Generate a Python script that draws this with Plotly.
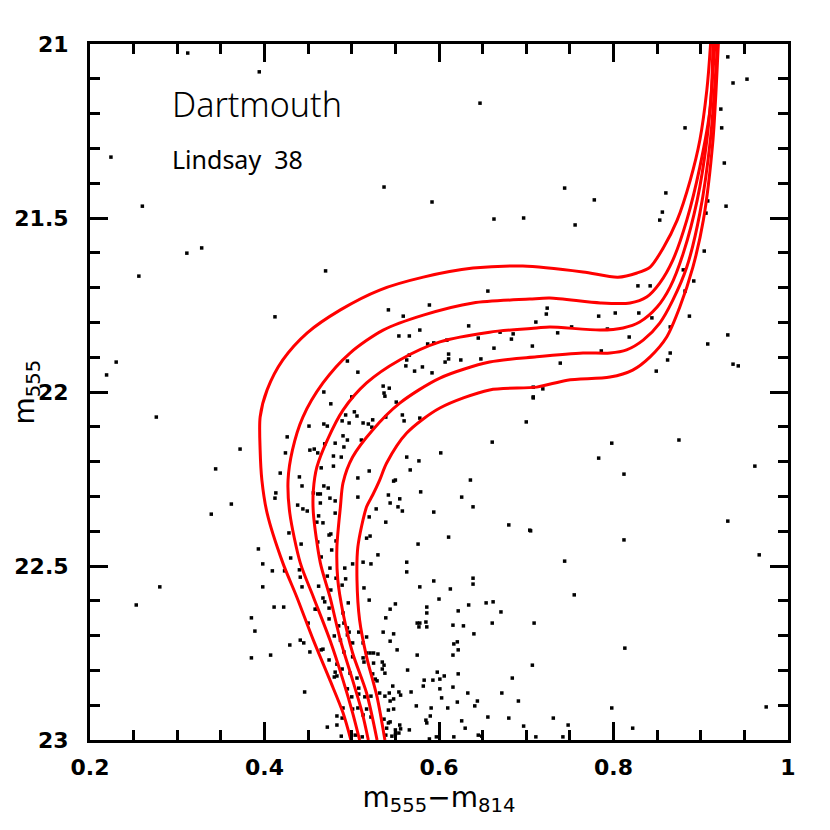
import plotly.graph_objects as go

# ---- isochrones (colour m555-m814, magnitude m555), bottom -> top ----
iso1_c = [0.499, 0.490, 0.475, 0.456, 0.437, 0.421, 0.403, 0.397, 0.395, 0.395, 0.403, 0.421, 0.449, 0.487,
          0.532, 0.582, 0.639, 0.696, 0.765, 0.805, 0.827, 0.842, 0.857, 0.873, 0.888, 0.899, 0.907, 0.911, 0.912]
iso1_m = [23.0, 22.922, 22.828, 22.713, 22.589, 22.491, 22.348, 22.253, 22.167, 22.072, 21.994, 21.908, 21.830, 21.764,
          21.707, 21.670, 21.644, 21.638, 21.655, 21.670, 21.658, 21.641, 21.586, 21.506, 21.391, 21.276, 21.132, 21.009, 20.96]

iso2_c = [0.509, 0.501, 0.490, 0.475, 0.456, 0.441, 0.429, 0.427, 0.432, 0.444, 0.467, 0.498, 0.536, 0.582,
          0.639, 0.704, 0.727, 0.785, 0.819, 0.838, 0.853, 0.868, 0.884, 0.899, 0.911, 0.914, 0.915]
iso2_m = [23.0, 22.922, 22.828, 22.713, 22.589, 22.491, 22.348, 22.253, 22.167, 22.072, 21.974, 21.888, 21.822, 21.779,
          21.744, 21.733, 21.730, 21.744, 21.744, 21.727, 21.687, 21.621, 21.506, 21.353, 21.181, 21.009, 20.96]

iso3_c = [0.519, 0.512, 0.501, 0.487, 0.475, 0.464, 0.456, 0.456, 0.460, 0.472, 0.490, 0.517, 0.555, 0.601,
          0.658, 0.712, 0.727, 0.785, 0.811, 0.830, 0.850, 0.865, 0.880, 0.896, 0.907, 0.916, 0.917]
iso3_m = [23.0, 22.922, 22.828, 22.713, 22.589, 22.491, 22.348, 22.282, 22.216, 22.138, 22.052, 21.974, 21.908, 21.856,
          21.828, 21.816, 21.813, 21.822, 21.816, 21.799, 21.756, 21.698, 21.601, 21.448, 21.276, 21.009, 20.96]

iso4_c = [0.529, 0.517, 0.501, 0.490, 0.484, 0.483, 0.487, 0.490, 0.501, 0.524, 0.555, 0.601, 0.658, 0.712,
          0.765, 0.796, 0.815, 0.834, 0.853, 0.868, 0.884, 0.899, 0.911, 0.919, 0.920]
iso4_m = [23.0, 22.865, 22.750, 22.635, 22.540, 22.445, 22.330, 22.261, 22.187, 22.109, 22.032, 21.960, 21.914, 21.899,
          21.888, 21.888, 21.879, 21.851, 21.802, 21.736, 21.641, 21.486, 21.276, 21.009, 20.96]

iso5_c = [0.538, 0.529, 0.517, 0.509, 0.506, 0.507, 0.517, 0.524, 0.532, 0.540, 0.563, 0.601, 0.658, 0.712,
          0.747, 0.796, 0.822, 0.842, 0.861, 0.876, 0.891, 0.903, 0.914, 0.920, 0.921]
iso5_m = [23.0, 22.876, 22.761, 22.655, 22.540, 22.445, 22.330, 22.296, 22.253, 22.204, 22.118, 22.046, 21.994, 21.986,
          21.966, 21.957, 21.937, 21.899, 21.842, 21.756, 21.641, 21.506, 21.276, 21.009, 20.96]

isochrones = [(iso1_c, iso1_m), (iso2_c, iso2_m), (iso3_c, iso3_m), (iso4_c, iso4_m), (iso5_c, iso5_m)]

# ---- stars ----
upper_c = [0.312, 0.394, 0.647, 0.224, 0.537, 0.592, 0.260, 0.663, 0.311, 0.328,
           0.931, 0.937, 0.953, 0.923, 0.914, 0.924, 0.882, 0.927, 0.744, 0.778,
           0.697, 0.756, 0.860, 0.856, 0.853, 0.908, 0.929, 0.906, 0.904, 0.880,
           0.892, 0.882, 0.828, 0.842, 0.887, 0.829, 0.844, 0.802, 0.783, 0.724,
           0.723, 0.711, 0.752, 0.793, 0.670, 0.685, 0.683, 0.736, 0.707, 0.818,
           0.865, 0.908, 0.931, 0.786, 0.739, 0.865, 0.862, 0.937, 0.943, 0.849,
           0.708, 0.719, 0.708]
upper_m = [21.026, 21.080, 21.170, 21.325, 21.411, 21.454, 21.466, 21.503, 21.601, 21.586,
           21.037, 21.112, 21.101, 21.187, 21.210, 21.241, 21.241, 21.342, 21.414, 21.448,
           21.500, 21.520, 21.428, 21.483, 21.506, 21.451, 21.466, 21.486, 21.595, 21.649,
           21.681, 21.710, 21.695, 21.695, 21.782, 21.773, 21.787, 21.773, 21.782, 21.759,
           21.776, 21.799, 21.813, 21.819, 21.828, 21.833, 21.848, 21.830, 21.868, 21.842,
           21.813, 21.862, 21.836, 21.882, 21.917, 21.888, 21.908, 21.920, 21.925, 21.940,
           21.986, 21.991, 22.017]

middle_c = [0.470, 0.656, 0.412, 0.589, 0.542, 0.559, 0.634, 0.578, 0.554, 0.566,
            0.594, 0.587, 0.609, 0.645, 0.663, 0.566, 0.611, 0.563, 0.611, 0.607,
            0.625, 0.648, 0.562, 0.581, 0.572, 0.592, 0.495, 0.507, 0.536, 0.543,
            0.537, 0.538, 0.551, 0.500, 0.468, 0.476, 0.503, 0.506, 0.493, 0.489,
            0.497, 0.513, 0.519, 0.524, 0.523, 0.539, 0.558, 0.560, 0.578, 0.708,
            0.700, 0.451, 0.468, 0.472, 0.426, 0.424, 0.452, 0.457, 0.461, 0.469,
            0.481, 0.490, 0.495, 0.491, 0.511, 0.479, 0.488, 0.465, 0.479, 0.418,
            0.440, 0.507, 0.520, 0.563, 0.567, 0.577, 0.602, 0.550, 0.661, 0.636,
            0.372]
middle_m = [21.652, 21.710, 21.784, 21.750, 21.764, 21.782, 21.810, 21.822, 21.839, 21.839,
            21.859, 21.862, 21.851, 21.845, 21.874, 21.894, 21.891, 21.908, 21.905, 21.914,
            21.908, 21.905, 21.925, 21.928, 21.940, 21.945, 21.911, 21.943, 21.983, 21.989,
            22.003, 22.012, 22.029, 22.014, 22.000, 22.034, 22.057, 22.069, 22.066, 22.083,
            22.089, 22.089, 22.092, 22.080, 22.101, 22.072, 22.066, 22.083, 22.075, 22.014,
            22.086, 22.098, 22.092, 22.098, 22.129, 22.175, 22.167, 22.164, 22.175, 22.149,
            22.147, 22.126, 22.138, 22.158, 22.138, 22.184, 22.187, 22.218, 22.213, 22.233,
            22.244, 22.247, 22.227, 22.187, 22.224, 22.198, 22.175, 22.253, 22.144, 22.253,
            22.164]

lower_c = [0.443, 0.468, 0.473, 0.413, 0.412, 0.456, 0.461, 0.464, 0.475, 0.481,
           0.507, 0.542, 0.548, 0.555, 0.544, 0.553, 0.558, 0.528, 0.579, 0.626,
           0.639, 0.438, 0.444, 0.449, 0.464, 0.462, 0.460, 0.467, 0.481, 0.520,
           0.539, 0.594, 0.428, 0.442, 0.461, 0.474, 0.476, 0.482, 0.517, 0.521,
           0.611, 0.680, 0.705, 0.393, 0.430, 0.465, 0.477, 0.530, 0.576, 0.563,
           0.563, 0.398, 0.409, 0.423, 0.440, 0.441, 0.475, 0.492, 0.501, 0.513,
           0.522, 0.482, 0.493, 0.472, 0.489, 0.443, 0.398, 0.462, 0.476, 0.514,
           0.578, 0.594, 0.613, 0.639, 0.639, 0.467, 0.469, 0.520, 0.600, 0.411,
           0.422, 0.458, 0.460, 0.474, 0.496, 0.544, 0.550, 0.586, 0.586, 0.622,
           0.634, 0.654, 0.662, 0.671, 0.385, 0.389, 0.450, 0.474, 0.485, 0.491,
           0.495, 0.497, 0.508, 0.490, 0.539, 0.575, 0.578, 0.577, 0.585, 0.586,
           0.616, 0.628, 0.661, 0.709, 0.480, 0.487, 0.495, 0.501, 0.513, 0.517,
           0.536, 0.544, 0.548, 0.552, 0.617, 0.621, 0.622, 0.616, 0.640, 0.429,
           0.441, 0.445, 0.407, 0.385, 0.452, 0.465, 0.467, 0.474, 0.483, 0.491,
           0.501, 0.513, 0.517, 0.521, 0.525, 0.530, 0.514, 0.525, 0.535, 0.537,
           0.535, 0.538, 0.564, 0.575, 0.481, 0.480, 0.483, 0.489, 0.498, 0.506,
           0.524, 0.527, 0.529, 0.583, 0.593, 0.598, 0.601, 0.606, 0.622, 0.582,
           0.601, 0.616, 0.633, 0.684, 0.707, 0.446, 0.495, 0.500, 0.508, 0.508,
           0.515, 0.522, 0.532, 0.538, 0.543, 0.547, 0.554, 0.556, 0.548, 0.544,
           0.603, 0.621, 0.641, 0.644, 0.672, 0.691, 0.568, 0.574, 0.591, 0.610,
           0.490, 0.501, 0.507, 0.517, 0.542, 0.548, 0.483, 0.489, 0.513, 0.522,
           0.537, 0.544, 0.542, 0.585, 0.590, 0.586, 0.626, 0.656, 0.680, 0.472,
           0.483, 0.540, 0.550, 0.555, 0.556, 0.554, 0.566, 0.630, 0.697, 0.488,
           0.504, 0.512, 0.539, 0.546, 0.550, 0.589, 0.597, 0.617, 0.645, 0.649, 0.711]
lower_m = [22.270, 22.270, 22.276, 22.290, 22.305, 22.290, 22.293, 22.293, 22.305, 22.313,
           22.302, 22.296, 22.256, 22.307, 22.319, 22.330, 22.342, 22.336, 22.287, 22.302,
           22.330, 22.325, 22.336, 22.342, 22.319, 22.356, 22.374, 22.376, 22.348, 22.359,
           22.374, 22.345, 22.405, 22.437, 22.431, 22.411, 22.408, 22.428, 22.420, 22.414,
           22.417, 22.382, 22.399, 22.451, 22.477, 22.474, 22.454, 22.468, 22.437, 22.489,
           22.517, 22.494, 22.514, 22.514, 22.511, 22.532, 22.506, 22.506, 22.494, 22.489,
           22.494, 22.535, 22.537, 22.529, 22.555, 22.560, 22.560, 22.558, 22.569, 22.563,
           22.560, 22.543, 22.566, 22.535, 22.552, 22.592, 22.603, 22.598, 22.595, 22.618,
           22.618, 22.624, 22.624, 22.621, 22.606, 22.624, 22.609, 22.618, 22.635, 22.629,
           22.612, 22.606, 22.603, 22.632, 22.649, 22.687, 22.664, 22.652, 22.672, 22.664,
           22.678, 22.690, 22.690, 22.635, 22.649, 22.664, 22.664, 22.675, 22.661, 22.675,
           22.670, 22.672, 22.664, 22.664, 22.701, 22.713, 22.698, 22.721, 22.721, 22.704,
           22.690, 22.716, 22.695, 22.741, 22.724, 22.718, 22.741, 22.756, 22.695, 22.727,
           22.713, 22.721, 22.756, 22.764, 22.747, 22.741, 22.739, 22.770, 22.782, 22.747,
           22.761, 22.764, 22.750, 22.750, 22.750, 22.753, 22.776, 22.779, 22.776, 22.785,
           22.796, 22.808, 22.799, 22.756, 22.805, 22.819, 22.816, 22.796, 22.808, 22.822,
           22.810, 22.825, 22.830, 22.828, 22.828, 22.805, 22.825, 22.816, 22.810, 22.845,
           22.853, 22.848, 22.865, 22.822, 22.785, 22.862, 22.853, 22.876, 22.851, 22.868,
           22.876, 22.874, 22.865, 22.874, 22.865, 22.845, 22.862, 22.871, 22.882, 22.888,
           22.879, 22.891, 22.902, 22.888, 22.865, 22.888, 22.862, 22.902, 22.908, 22.908,
           22.908, 22.911, 22.908, 22.911, 22.914, 22.911, 22.931, 22.937, 22.928, 22.934,
           22.940, 22.948, 22.951, 22.943, 22.931, 22.951, 22.945, 22.934, 22.937, 22.963,
           22.957, 22.966, 22.971, 22.957, 22.968, 22.980, 22.971, 22.966, 22.960, 22.989,
           22.986, 22.991, 22.986, 22.989, 22.983, 22.997, 22.991, 22.991, 22.986, 22.989, 22.991]

field_c = [0.798, 0.875, 0.783, 0.812, 0.962, 0.704, 0.812, 0.931, 0.967, 0.744,
           0.755, 0.813, 0.798, 0.975, 0.731, 0.748, 0.822, 0.742,
           0.256, 0.230, 0.219, 0.276, 0.344, 0.362, 0.339, 0.280, 0.253]
field_m = [22.147, 22.138, 22.190, 22.236, 22.213, 22.397, 22.425, 22.371, 22.468, 22.486,
           22.583, 22.736, 22.908, 22.905, 22.937, 22.957, 22.966, 22.991,
           21.667, 21.914, 21.951, 22.072, 22.221, 22.322, 22.351, 22.560, 22.612]

star_c = upper_c + middle_c + lower_c + field_c
star_m = upper_m + middle_m + lower_m + field_m

fig = go.Figure()
fig.add_trace(go.Scatter(x=star_c, y=star_m, mode="markers",
                         marker=dict(symbol="square", size=3.5, color="black", line=dict(width=0)),
                         showlegend=False, hoverinfo="skip"))
for c, m in isochrones:
    fig.add_trace(go.Scatter(x=c, y=m, mode="lines",
                             line=dict(color="#ff0000", width=3, shape="spline", smoothing=0.8),
                             showlegend=False, hoverinfo="skip"))

tick_font = dict(family="DejaVu Sans", size=22, color="black", weight="bold")
title_font = dict(family="DejaVu Sans", size=28, color="black")

fig.update_xaxes(range=[0.2, 1.0], tickmode="linear", tick0=0.2, dtick=0.2,
                 ticks="inside", ticklen=18, tickwidth=2.5, tickcolor="black",
                 minor=dict(tickmode="linear", tick0=0.2, dtick=0.05, ticks="inside",
                            ticklen=10, tickwidth=2.5, tickcolor="black", showgrid=False),
                 showline=True, linewidth=3, linecolor="black", mirror="allticks",
                 showgrid=False, zeroline=False, tickfont=tick_font, ticklabelstandoff=6,
                 title=dict(text="m<sub>555</sub>−m<sub>814</sub>", font=title_font, standoff=8))
fig.update_yaxes(range=[23, 21], tickmode="linear", tick0=21, dtick=0.5,
                 ticks="inside", ticklen=18, tickwidth=2.5, tickcolor="black",
                 minor=dict(tickmode="linear", tick0=21, dtick=0.1, ticks="inside",
                            ticklen=10, tickwidth=2.5, tickcolor="black", showgrid=False),
                 showline=True, linewidth=3, linecolor="black", mirror="allticks",
                 showgrid=False, zeroline=False, tickfont=tick_font, ticklabelstandoff=14)

fig.add_annotation(text="m<sub>555</sub>", xref="paper", yref="paper", x=-0.091, y=0.5,
                   xanchor="center", yanchor="middle", textangle=-90, showarrow=False,
                   font=title_font)
fig.add_annotation(text="Dartmouth", xref="paper", yref="paper", x=0.1146, y=0.914,
                   xanchor="left", yanchor="middle", showarrow=False,
                   font=dict(family="Noto Sans", size=34, color="black", weight=300))
fig.add_annotation(text="Lindsay  38", xref="paper", yref="paper", x=0.1146, y=0.835,
                   xanchor="left", yanchor="middle", showarrow=False,
                   font=dict(family="Noto Sans", size=25, color="black"))

fig.update_layout(width=830, height=830, autosize=False,
                  margin=dict(l=82, r=50, t=36, b=98, autoexpand=False),
                  plot_bgcolor="white", paper_bgcolor="white")

fig.write_html("out.html")
